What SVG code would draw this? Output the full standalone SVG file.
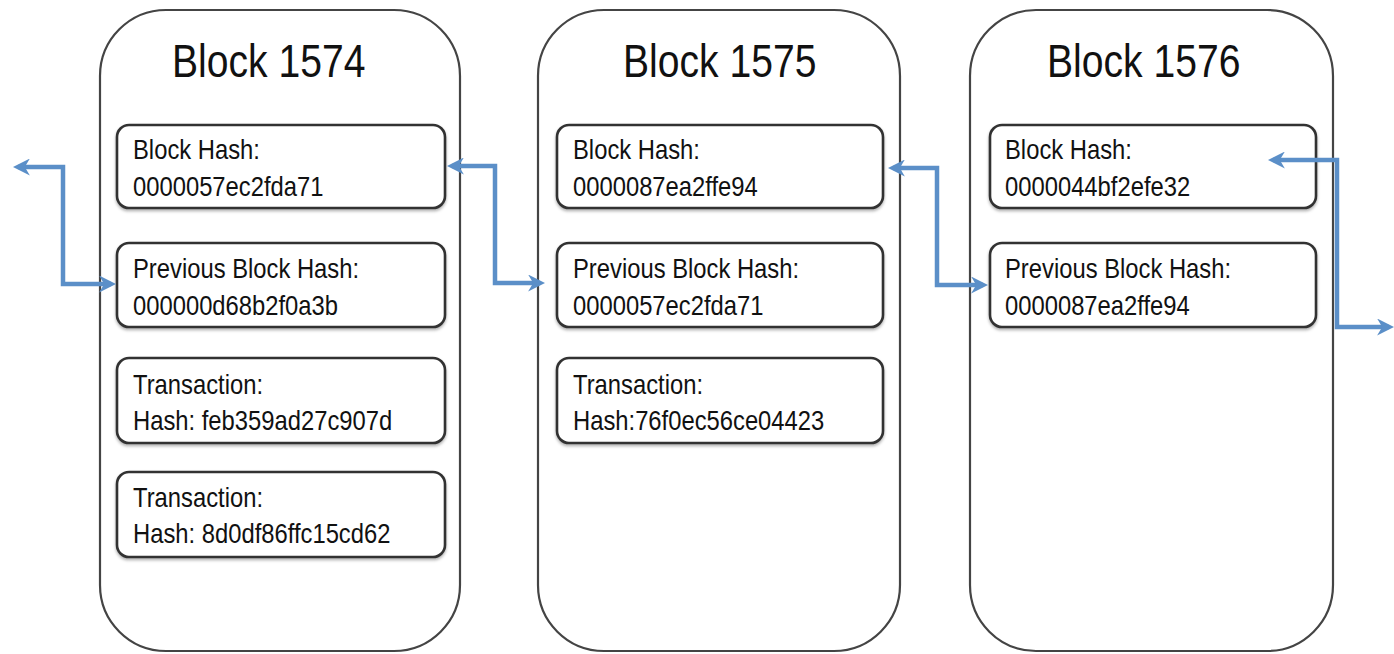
<svg xmlns="http://www.w3.org/2000/svg" width="1394" height="654" viewBox="0 0 1394 654">
<style>
.blk{fill:#fff;stroke:#444;stroke-width:2.2}
.box{fill:#fff;stroke:#333;stroke-width:2.6;filter:url(#sh)}
.title{font-family:"Liberation Sans",Arial,sans-serif;font-size:46px;fill:#111}
.txt{font-family:"Liberation Sans",Arial,sans-serif;font-size:28px;fill:#111}
.con{fill:none;stroke:#5b8fc8;stroke-width:4.5;stroke-linejoin:miter}
</style>
<defs>
<filter id="sh" x="-5%" y="-10%" width="110%" height="130%">
<feDropShadow dx="0" dy="2" stdDeviation="1.5" flood-color="#000" flood-opacity="0.3"/>
</filter>
<marker id="ah" viewBox="0 0 10 10" refX="7" refY="5" markerWidth="17" markerHeight="17" markerUnits="userSpaceOnUse" orient="auto-start-reverse">
<path d="M0,0 L10,5 L0,10 L3,5 z" fill="#5b8fc8"/>
</marker>
</defs>
<rect width="1394" height="654" fill="#fff"/>

<g id="block1574">
<rect class="blk" x="100" y="10" width="360" height="641" rx="66" ry="66"/>
<text class="title" transform="translate(172 77) scale(0.85 1)">Block 1574</text>
<rect class="box" x="117" y="125" width="328" height="83" rx="12"/>
<text class="txt" transform="translate(133 159) scale(0.85 1)"><tspan x="0" y="0">Block Hash:</tspan><tspan x="0" y="37">0000057ec2fda71</tspan></text>
<rect class="box" x="117" y="243" width="328" height="84" rx="12"/>
<text class="txt" transform="translate(133 278) scale(0.85 1)"><tspan x="0" y="0">Previous Block Hash:</tspan><tspan x="0" y="37">000000d68b2f0a3b</tspan></text>
<rect class="box" x="117" y="358" width="328" height="85" rx="12"/>
<text class="txt" transform="translate(133 394) scale(0.85 1)"><tspan x="0" y="0">Transaction:</tspan><tspan x="0" y="36">Hash: feb359ad27c907d</tspan></text>
<rect class="box" x="117" y="472" width="328" height="85" rx="12"/>
<text class="txt" transform="translate(133 507) scale(0.85 1)"><tspan x="0" y="0">Transaction:</tspan><tspan x="0" y="36">Hash: 8d0df86ffc15cd62</tspan></text>
</g>

<g id="block1575">
<rect class="blk" x="538" y="10" width="362" height="641" rx="66" ry="66"/>
<text class="title" transform="translate(623 77) scale(0.85 1)">Block 1575</text>
<rect class="box" x="557" y="125" width="326" height="83" rx="12"/>
<text class="txt" transform="translate(573 159) scale(0.85 1)"><tspan x="0" y="0">Block Hash:</tspan><tspan x="0" y="37">0000087ea2ffe94</tspan></text>
<rect class="box" x="557" y="243" width="326" height="84" rx="12"/>
<text class="txt" transform="translate(573 278) scale(0.85 1)"><tspan x="0" y="0">Previous Block Hash:</tspan><tspan x="0" y="37">0000057ec2fda71</tspan></text>
<rect class="box" x="557" y="358" width="326" height="85" rx="12"/>
<text class="txt" transform="translate(573 394) scale(0.85 1)"><tspan x="0" y="0">Transaction:</tspan><tspan x="0" y="36">Hash:76f0ec56ce04423</tspan></text>
</g>

<g id="block1576">
<rect class="blk" x="970" y="10" width="363" height="641" rx="66" ry="66"/>
<text class="title" transform="translate(1047 77) scale(0.85 1)">Block 1576</text>
<rect class="box" x="990" y="125" width="326" height="83" rx="12"/>
<text class="txt" transform="translate(1005 159) scale(0.85 1)"><tspan x="0" y="0">Block Hash:</tspan><tspan x="0" y="37">0000044bf2efe32</tspan></text>
<rect class="box" x="990" y="243" width="326" height="84" rx="12"/>
<text class="txt" transform="translate(1005 278) scale(0.85 1)"><tspan x="0" y="0">Previous Block Hash:</tspan><tspan x="0" y="37">0000087ea2ffe94</tspan></text>
</g>

<g id="connectors">
<path class="con" d="M18,167 H63 V284 H111" marker-start="url(#ah)" marker-end="url(#ah)"/>
<path class="con" d="M452,166 H495 V283 H540" marker-start="url(#ah)" marker-end="url(#ah)"/>
<path class="con" d="M893,168 H937 V285 H983" marker-start="url(#ah)" marker-end="url(#ah)"/>
<path class="con" d="M1273,160 H1337 V327 H1389" marker-start="url(#ah)" marker-end="url(#ah)"/>
</g>
</svg>
